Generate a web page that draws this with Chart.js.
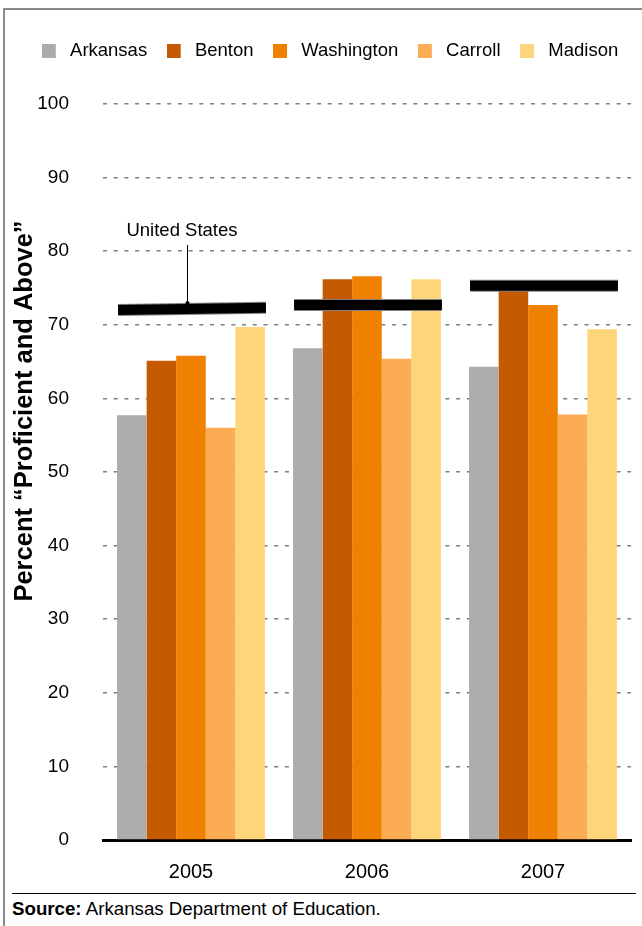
<!DOCTYPE html>
<html>
<head>
<meta charset="utf-8">
<title>Percent Proficient and Above</title>
<script src="https://cdn.jsdelivr.net/npm/chart.js@4.4.1/dist/chart.umd.min.js"></script>
<style>
  html, body { margin: 0; padding: 0; background: #fff; }
  body { width: 642px; height: 926px; position: relative; overflow: hidden;
         font-family: "Liberation Sans", Arial, Helvetica, sans-serif; color: #000; }
  .frame { position: absolute; left: 3px; top: 8px; width: 700px; height: 1000px;
           border-left: 2px solid #8a8a8a; border-top: 2px solid #8a8a8a; }
  .plot { position: absolute; left: 0; top: 0; width: 642px; height: 890px; }
  .source { position: absolute; left: 12px; top: 893px; width: 624px;
            border-top: 1px solid #000; font-size: 18.7px; padding-top: 4px; }
</style>
</head>
<body>
<div class="frame"></div>
<div class="plot"><canvas id="chart"></canvas></div>
<div class="source"><b>Source:</b> Arkansas Department of Education.</div>

<script>
const FONT = '"Liberation Sans", Arial, Helvetica, sans-serif';

// Годы и значения по округам (% "Proficient and Above")
const years = ['2005', '2006', '2007'];
const arkansas = [57.7, 66.8, 64.3];
const benton = [65.1, 76.2, 75.0];
const washington = [65.8, 76.6, 72.7];
const carroll = [56.0, 65.4, 57.8];
const madison = [69.7, 76.2, 69.4];

// Уровень по США: начало и конец отрезка над каждой группой
const usStart = [72.0, 72.7, 75.3];
const usEnd = [72.3, 72.7, 75.3];

const yTicks = [0, 10, 20, 30, 40, 50, 60, 70, 80, 90, 100];

const seriesNames = ['Arkansas', 'Benton', 'Washington', 'Carroll', 'Madison'];
const seriesColors = ['#acacac', '#c55a00', '#f08000', '#fdac56', '#ffd57b'];
const seriesValues = [arkansas, benton, washington, carroll, madison];

const GROUP = 0.84;

// Квадратик для легенды с пустым полем справа
function swatch(color) {
  const c = document.createElement('canvas');
  c.width = 20;
  c.height = 14;
  const g = c.getContext('2d');
  g.fillStyle = color;
  g.fillRect(0, 0, 14, 14);
  return c;
}

// Отступ между легендой и областью графика
const legendGap = {
  id: 'legendGap',
  beforeInit(chart) {
    if (!chart.legend) return;
    const fit = chart.legend.fit;
    chart.legend.fit = function () {
      fit.call(this);
      this.height += 34;
    };
  }
};

// Линии уровня США и подпись
const usLine = {
  id: 'usLine',
  afterDatasetsDraw(chart) {
    const { ctx, scales: { x, y } } = chart;
    const half = x.width / years.length * GROUP / 2;
    ctx.save();
    years.forEach((yr, i) => {
      const cx = x.getPixelForValue(i);
      const x0 = cx - half + 1, x1 = cx + half + 1;
      const y0 = y.getPixelForValue(usStart[i]);
      const y1 = y.getPixelForValue(usEnd[i]);
      ctx.lineCap = 'butt';
      ctx.beginPath();
      ctx.moveTo(x0, y0);
      ctx.lineTo(x1, y1);
      ctx.strokeStyle = '#808080';
      ctx.lineWidth = 12;
      ctx.stroke();
      ctx.strokeStyle = '#000';
      ctx.lineWidth = 10;
      ctx.stroke();
    });

    const lx = x.getPixelForValue(0) - 4;
    const ly = y.getPixelForValue((usStart[0] + usEnd[0]) / 2);
    ctx.beginPath();
    ctx.moveTo(lx + 0.5, ly - 64);
    ctx.lineTo(lx + 0.5, ly - 5);
    ctx.strokeStyle = '#000';
    ctx.lineWidth = 1;
    ctx.stroke();
    ctx.beginPath();
    ctx.arc(lx + 0.5, ly - 6, 2, 0, Math.PI * 2);
    ctx.fillStyle = '#000';
    ctx.fill();

    ctx.font = '18.5px ' + FONT;
    ctx.textAlign = 'center';
    ctx.textBaseline = 'middle';
    ctx.fillText('United States', lx - 5, ly - 78);
    ctx.restore();
  }
};

// Подпись оси Y
const yTitle = {
  id: 'yTitle',
  afterDraw(chart) {
    const { ctx } = chart;
    ctx.save();
    ctx.translate(25, 411);
    ctx.rotate(-Math.PI / 2);
    ctx.font = 'bold 25.5px ' + FONT;
    ctx.textAlign = 'center';
    ctx.textBaseline = 'middle';
    ctx.fillStyle = '#000';
    ctx.fillText('Percent \u201cProficient and Above\u201d', 0, 0);
    ctx.restore();
  }
};

const datasets = seriesNames.map((name, i) => ({
  label: name,
  data: seriesValues[i],
  backgroundColor: seriesColors[i],
  borderWidth: 0,
  pointStyle: swatch(seriesColors[i]),
  categoryPercentage: GROUP,
  barPercentage: 1.0
}));

new Chart(document.getElementById('chart'), {
  type: 'bar',
  data: { labels: years, datasets },
  plugins: [legendGap, usLine, yTitle],
  options: {
    responsive: true,
    maintainAspectRatio: false,
    animation: false,
    layout: { padding: { top: 21, left: 19, right: 0, bottom: 0 } },
    plugins: {
      legend: {
        position: 'top',
        labels: {
          usePointStyle: true,
          boxWidth: 18,
          boxHeight: 14,
          padding: 20.5,
          color: '#000',
          font: { size: 18.5, family: FONT }
        }
      },
      tooltip: { enabled: false }
    },
    scales: {
      x: {
        grid: { display: false, drawTicks: false },
        border: { display: true, color: '#000', width: 3 },
        ticks: { padding: 20, color: '#000', font: { size: 20, family: FONT } },
        afterFit(scale) { scale.height = 50; }
      },
      y: {
        min: 0,
        max: 100,
        afterBuildTicks(scale) { scale.ticks = yTicks.map(v => ({ value: v })); },
        ticks: { padding: 34, color: '#000', font: { size: 19, family: FONT } },
        grid: {
          drawTicks: false,
          lineWidth: 1.5,
          color: ctx => (ctx.tick && ctx.tick.value === 0) ? 'rgba(0,0,0,0)' : '#7f7f7f'
        },
        border: { display: false, dash: [4, 6.7] },
        afterFit(scale) { scale.width = 84; }
      },
      // пустая ось справа — только поле между графиком и краем
      yRight: {
        position: 'right',
        grid: { display: false, drawTicks: false },
        border: { display: false },
        ticks: { display: false },
        afterFit(scale) { scale.width = 11; }
      }
    }
  }
});
</script>
</body>
</html>
